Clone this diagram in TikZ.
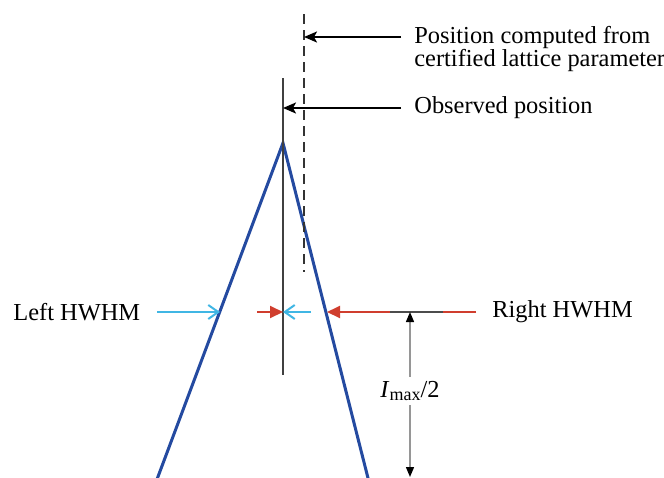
\documentclass[tikz,border=0pt]{standalone}
\usepackage{fontspec}
\setmainfont{Liberation Serif}
\usetikzlibrary{arrows.meta}
\definecolor{peakblue}{RGB}{36,74,160}
\definecolor{hcyan}{RGB}{64,182,228}
\definecolor{hred}{RGB}{208,62,46}
\definecolor{dimgray}{RGB}{150,150,150}
\begin{document}
\begin{tikzpicture}[x=0.5pt,y=-0.5pt,
  lbl/.style={font=\fontsize{12.2}{11.6}\selectfont, inner sep=0pt, align=left},
  peak/.style={peakblue, line width=1.5pt, line join=miter},
  vline/.style={black!75, line width=1.1pt},
  dline/.style={black!80, line width=1.1pt, dash pattern=on 5pt off 3pt},
  pointer/.style={black, line width=1pt, -{Stealth[length=6.5pt,width=5.5pt,inset=1.5pt]}},
  cyanarrow/.style={hcyan, line width=1pt, -{Straight Barb[length=5pt,width=7pt]}},
  redarrow/.style={hred, line width=1pt, -{Triangle[length=6.5pt,width=6pt]}},
  dimarrow/.style={dimgray, line width=0.7pt, {Triangle[length=5pt,width=4pt,black]}-{Triangle[length=5pt,width=4pt,black]}}
]
\useasboundingbox (0,0) rectangle (664,477);
% peak
\coordinate (apex) at (283,143);
\coordinate (lb) at (156,482);
\coordinate (rb) at (369,482);
\draw[peak] (lb) -- (apex) -- (rb);
% observed and computed positions
\coordinate (obsT) at (283,78);
\coordinate (obsB) at (283,375);
\draw[vline] (obsT) -- (obsB);
\coordinate (calcT) at (304,14);
\coordinate (calcB) at (304,272);
\draw[dline] (calcT) -- (calcB);
% labels top
\node[lbl, anchor=north west] (calc) at (414,26) {Position computed from\\certified lattice parameter};
\coordinate (p1) at (401,37);
\draw[pointer] (p1) -- (p1 -| calcT);
\node[lbl, anchor=west] (obs) at (414,108) {Observed position};
\coordinate (p2) at (401,108);
\draw[pointer] (p2) -- (p2 -| obsT);
% HWHM
\node[lbl, anchor=west] (lh) at (13,312) {Left HWHM};
\node[lbl, anchor=west] (rh) at (492,312) {Right HWHM};
\coordinate (lx) at (220,312);
\coordinate (rx) at (327,312);
\coordinate (c1) at (157,312);
\coordinate (c2) at (311,312);
\coordinate (r1) at (257,312);
\coordinate (r2) at (476,312);
\draw[cyanarrow] (c1) -- (lx);
\draw[cyanarrow] (c2) -- (c2 -| obsT);
\draw[redarrow] (r1) -- (r1 -| obsT);
\draw[redarrow] (r2) -- (rx);
\coordinate (t1) at (390,312);
\coordinate (t2) at (443,312);
\draw[black!70, line width=1pt] (t1) -- (t2);
% Imax/2
\coordinate (dT) at (410,312);
\coordinate (dB) at (410,477);
\draw[dimarrow] (dT) -- (dB);
\node[lbl, fill=white, inner sep=2pt] (im) at (410,391) {\textit{I}\raisebox{-0.35ex}{\fontsize{9}{9}\selectfont max}/2};
\end{tikzpicture}
\end{document}
